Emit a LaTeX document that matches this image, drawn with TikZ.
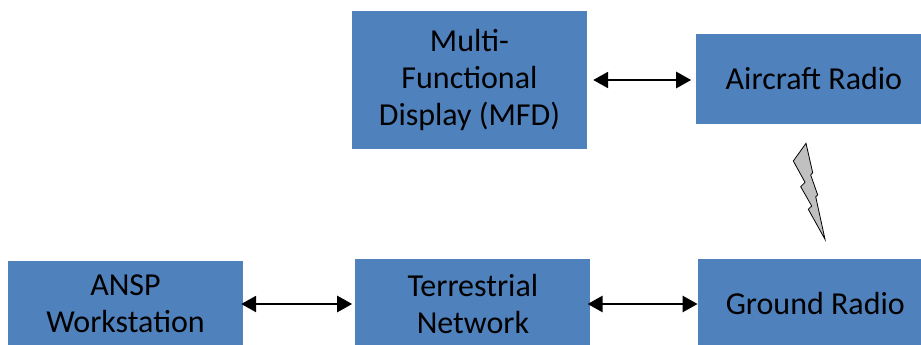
\documentclass[tikz,border=0pt]{standalone}
\usepackage{fontspec}
\setmainfont{Carlito}
\usepackage{xcolor}
\usepackage{tikz}
\usetikzlibrary{arrows.meta,positioning}

\definecolor{boxblue}{HTML}{4F81BD}
\definecolor{boltgray}{HTML}{C0C0C0}

\begin{document}
\begin{tikzpicture}[
    x=1pt, y=-1pt,
    block/.style={rectangle, fill=boxblue, inner sep=0pt, minimum width=235pt, minimum height=90pt,
        align=center, font=\fontsize{32}{37}\selectfont},
    link/.style={line width=2.6pt, {Triangle[length=15pt,width=16pt]}-{Triangle[length=15pt,width=16pt]}},
    bolt/.style={draw=black, line width=0.8pt, fill=boltgray, line join=miter}
]
    \clip (0,0) rectangle (921,345);
    \fill[white] (0,0) rectangle (921,345);

    \node [block, minimum height=138pt] (mfd) at (469.5,80) {Multi-\\Functional\\Display (MFD)};
    \node [block, right=109pt of mfd, yshift=1pt] (aircraft) {Aircraft Radio};
    \node [block, minimum height=86pt] (ansp) at (125.5,304) {ANSP\\Workstation};
    \node [block, right=112pt of ansp] (terr) {Terrestrial\\Network};
    \node [block, right=107pt of terr] (ground) {Ground Radio};

    \draw [link, shorten <=6pt, shorten >=5pt] (mfd.east |- 0,80) -- (aircraft.west |- 0,80);
    \draw [link, shorten <=-2pt, shorten >=3pt] (ansp) -- (terr);
    \draw [link, shorten <=-3pt] (terr) -- (ground);

    % radio link between the two radios
    \draw [bolt] (806,143.3) -- (812.7,172.7) -- (810.7,175) -- (817.7,195) -- (815.7,196.7)
        -- (825,239.3) -- (808.3,209.3) -- (811.7,206) -- (800.7,186.7) -- (805,182.3)
        -- (793.3,161) -- cycle;
\end{tikzpicture}
\end{document}
